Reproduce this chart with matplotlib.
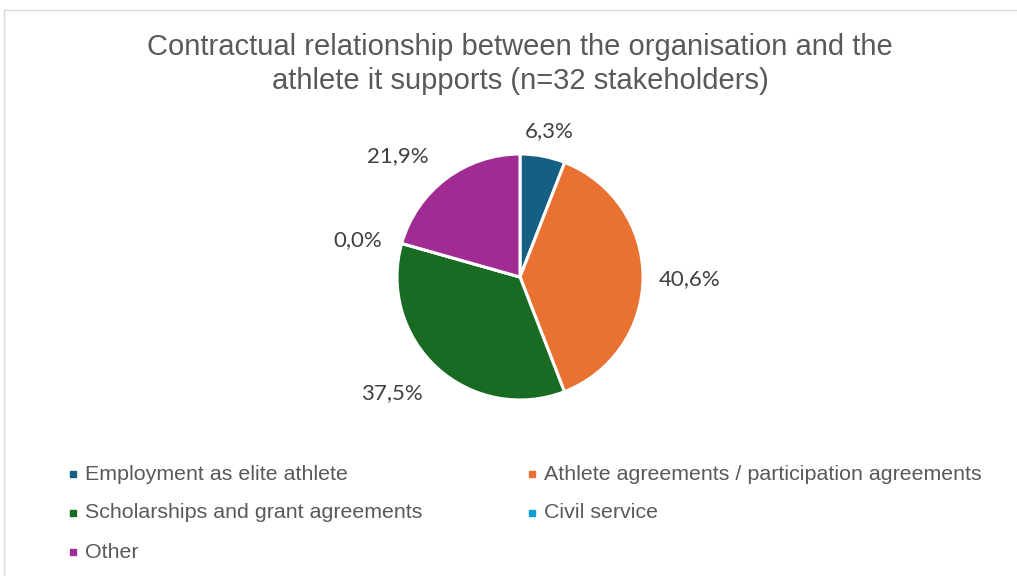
import matplotlib.pyplot as plt
from matplotlib.lines import Line2D
from matplotlib.patches import Rectangle

# share of stakeholders per contract type (percent, as labelled)
categories = [
    "Employment as elite athlete",
    "Athlete agreements / participation agreements",
    "Scholarships and grant agreements",
    "Civil service",
    "Other",
]
shares = [6.3, 40.6, 37.5, 0.0, 21.9]
colors = ["#156082", "#E97132", "#196B24", "#0F9ED5", "#A02B93"]

# where each value label sits, in pie-radius units
label_xy = [(0.24, 1.19), (1.38, -0.02), (-1.04, -0.94), (-1.32, 0.30), (-0.99, 0.98)]

W, H, DPI = 1017, 576, 100
fig = plt.figure(figsize=(W / DPI, H / DPI), dpi=DPI)
fig.patch.set_facecolor("white")

# thin frame around the chart area
fig.patches.append(Rectangle((4 / W, -0.1), 1.2, (H - 10) / H + 0.1,
                             transform=fig.transFigure, fill=False,
                             edgecolor="#D9D9D9", linewidth=1.0))

# pie axes: centre at (520, 277) px, radius 123 px
cx, cy, r = 520, 277, 123
half = 230
ax = fig.add_axes([(cx - half) / W, (H - cy - half) / H, 2 * half / W, 2 * half / H])
ax.pie(shares, colors=colors, startangle=90, counterclock=False, radius=1,
       wedgeprops=dict(edgecolor="white", linewidth=2.2))
ax.set_xlim(-half / r, half / r)
ax.set_ylim(-half / r, half / r)
ax.set_aspect("equal")
ax.axis("off")

for v, (x, y) in zip(shares, label_xy):
    ax.text(x, y, f"{v:.1f}%".replace(".", ","), ha="center", va="center",
            fontsize=16, color="#404040", family="Lato")

fig.text(cx / W, 1 - 47 / H, "Contractual relationship between the organisation and the",
         ha="center", va="center", fontsize=21, color="#595959", family="Liberation Sans")
fig.text(cx / W, 1 - 81 / H, "athlete it supports (n=32 stakeholders)",
         ha="center", va="center", fontsize=21, color="#595959", family="Liberation Sans")

# legend laid out in two columns, filled row by row
col_x = [73, 532]
row_y = [474, 513, 552]
for i, (name, c) in enumerate(zip(categories, colors)):
    x, y = col_x[i % 2], row_y[i // 2]
    fig.add_artist(Line2D([x / W], [1 - y / H], marker="s", markersize=4.6,
                          markerfacecolor=c, markeredgecolor=c, linestyle="none",
                          transform=fig.transFigure))
    fig.text((x + 12) / W, 1 - y / H, name, ha="left", va="center",
             fontsize=15.4, color="#595959", family="Liberation Sans")

fig.savefig("out.png", dpi=DPI)
